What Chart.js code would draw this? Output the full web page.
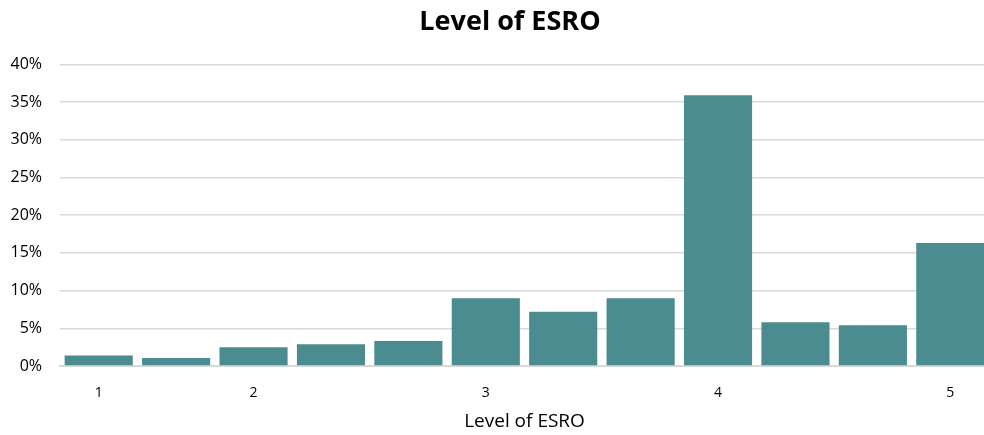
<!DOCTYPE html>
<html>
<head>
<meta charset="utf-8">
<script src="https://cdn.jsdelivr.net/npm/chart.js@4/dist/chart.umd.min.js"></script>
<style>
  html, body { margin: 0; padding: 0; background: #fff; }
  #wrap { width: 984px; height: 435px; position: relative; overflow: hidden; }
</style>
</head>
<body>
<div id="wrap"><canvas id="barChart"></canvas></div>
<script>
// categories (only the whole levels get a label)
const levelLabels = ["1", "", "2", "", "", "3", "", "", "4", "", "", "5"];
// share of respondents, in percent
const levelShares = [1.4, 1.05, 2.5, 2.9, 3.3, 9.0, 7.2, 9.0, 35.9, 5.8, 5.4, 16.3];
const yTicks = [0, 5, 10, 15, 20, 25, 30, 35, 40];

const fontFamily = "'Open Sans', 'Lato', sans-serif";

let barData = {
  labels: levelLabels,
  datasets: [
    {
      label: "Level of ESRO",
      data: levelShares,
      backgroundColor: "#4a8c8f",
      borderWidth: 0,
      barPercentage: 0.88,
      categoryPercentage: 1.0,
    },
  ],
};

// the original figure is a bit wider than the visible crop,
// an empty right axis keeps that extra space
let barOptions = {
  animation: false,
  responsive: false,
  layout: { padding: { top: 6, right: 0, bottom: 2, left: 0 } },
  plugins: {
    legend: { display: false },
    tooltip: { enabled: false },
    title: {
      display: true,
      text: "Level of ESRO",
      color: "#000",
      font: { family: fontFamily, size: 27, weight: "bold" },
      padding: { top: 0, bottom: 26 },
    },
  },
  scales: {
    x: {
      grid: { display: false, drawTicks: false },
      border: { display: true, color: "#d9d9d9", width: 2 },
      ticks: {
        color: "#000",
        font: { family: fontFamily, size: 14 },
        padding: 19,
        autoSkip: false,
        maxRotation: 0,
      },
      title: {
        display: true,
        text: "Level of ESRO",
        color: "#000",
        font: { family: fontFamily, size: 19 },
        padding: { top: 0, bottom: 0 },
      },
      afterFit: (axis) => {
        axis.height = 67;
      },
    },
    y: {
      min: 0,
      max: 40,
      afterBuildTicks: (axis) => {
        axis.ticks = yTicks.map((v) => ({ value: v }));
      },
      afterFit: (axis) => {
        axis.width = 60;
      },
      grid: { color: "#d9d9d9", lineWidth: 1.5, drawTicks: false },
      border: { display: false },
      ticks: {
        color: "#000",
        font: { family: fontFamily, size: 16 },
        padding: 18,
        callback: (v) => v + "%",
      },
    },
    yRight: {
      position: "right",
      min: 0,
      max: 40,
      grid: { display: false, drawTicks: false },
      border: { display: false },
      ticks: { display: false },
      afterFit: (axis) => {
        axis.width = 31;
      },
    },
  },
};

let ctx = document.getElementById("barChart");
ctx.width = 1020;
ctx.height = 435;
new Chart(ctx, { type: "bar", data: barData, options: barOptions });
</script>
</body>
</html>
